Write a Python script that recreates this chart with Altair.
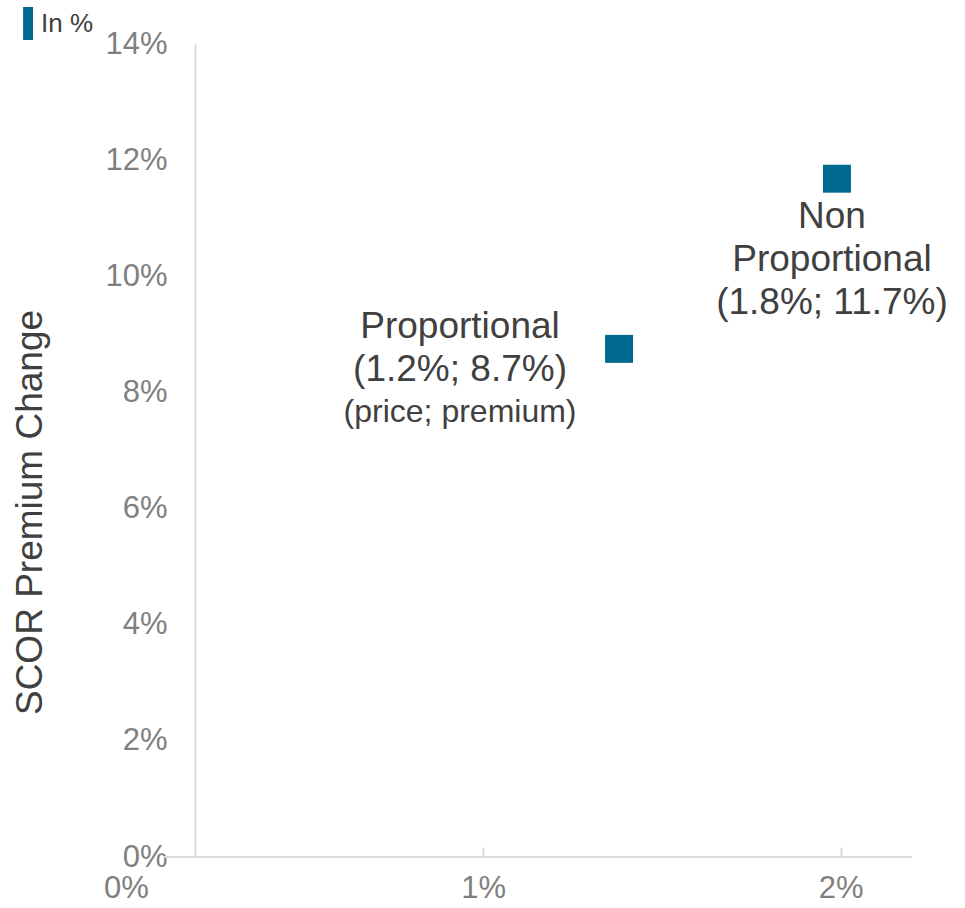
import altair as alt
import pandas as pd

# ---- data ----
series_names = ["Proportional", "Non Proportional"]
price_change = [0.0138, 0.0199]        # x position of each square
premium_change = [0.0875, 0.1168]      # y position of each square
point_labels = ["Proportional\n(1.2%; 8.7%)", "Non\nProportional\n(1.8%; 11.7%)"]
note_label = "(price; premium)"
legend_label = "In %"
x_tick_values = [0.0, 0.01, 0.02]
y_tick_values = [0.0, 0.02, 0.04, 0.06, 0.08, 0.10, 0.12, 0.14]
y_title = "SCOR Premium Change"

X_DOMAIN = [0.0, 0.022]
Y_DOMAIN = [0.0, 0.14]
X_LINE_START = 0.00105
FONT = "Liberation Sans"
BLUE = "#006A8E"
AXIS_GRAY = "#d9d9d9"
LABEL_GRAY = "#808080"
TEXT_DARK = "#404040"

df = pd.DataFrame({
    "name": series_names,
    "price": price_change,
    "premium": premium_change,
    "label": point_labels,
    "series": [legend_label] * len(series_names),
})
note_df = pd.DataFrame({"price": [price_change[0]], "premium": [premium_change[0]], "label": [note_label]})
line_df = pd.DataFrame({"price": [X_LINE_START], "price2": [X_DOMAIN[1]], "premium": [0.0]})

x_enc = alt.X(
    "price:Q",
    scale=alt.Scale(domain=X_DOMAIN, nice=False, zero=False),
    axis=alt.Axis(
        values=x_tick_values, format=".0%", domain=False, grid=False,
        offset=-10, tickSize=10, tickColor=AXIS_GRAY, tickWidth=2,
        tickOpacity={"condition": {"test": "datum.value == 0", "value": 0}, "value": 1},
        labelFontSize=31, labelColor=LABEL_GRAY, labelFont=FONT, labelPadding=16,
        labelFlush=False, title=None,
    ),
)
y_enc = alt.Y(
    "premium:Q",
    scale=alt.Scale(domain=Y_DOMAIN, nice=False, zero=False),
    axis=alt.Axis(
        values=y_tick_values, format=".0%", grid=False,
        offset=-69, domain=True, domainColor=AXIS_GRAY, domainWidth=2,
        ticks=False, labelPadding=28, labelFontSize=31, labelColor=LABEL_GRAY,
        labelFont=FONT, labelFlush=False,
        title=y_title, titleFontSize=37, titleColor=TEXT_DARK, titleFont=FONT,
        titleFontWeight="normal", titleX=-165, titleY=468, titleAngle=270,
        titleAlign="center", titleBaseline="middle",
    ),
)

axis_line = alt.Chart(line_df).mark_rule(color=AXIS_GRAY, strokeWidth=2).encode(
    x=x_enc, x2="price2:Q", y=y_enc
)

points = alt.Chart(df).mark_square(size=780, opacity=1).encode(
    x=x_enc,
    y=y_enc,
    color=alt.Color(
        "series:N",
        scale=alt.Scale(range=[BLUE]),
        legend=alt.Legend(
            title=None, orient="none", legendX=-126, legendY=-37, padding=0,
            symbolType="M0.4,-1H1V1H0.4Z", symbolSize=1089,
            symbolStrokeWidth=0, symbolOpacity=1,
            labelFontSize=26, labelColor=TEXT_DARK, labelFont=FONT, labelOffset=8,
        ),
    ),
)

text_common = dict(font=FONT, color=TEXT_DARK, align="center", baseline="middle",
                   lineBreak="\n", lineHeight=43)

prop_text = alt.Chart(df).transform_filter(alt.datum.name == series_names[0]).mark_text(
    fontSize=37, dx=-159, dy=-22, **text_common
).encode(x=x_enc, y=y_enc, text="label:N")

nonprop_text = alt.Chart(df).transform_filter(alt.datum.name == series_names[1]).mark_text(
    fontSize=37, dx=-5, dy=38, **text_common
).encode(x=x_enc, y=y_enc, text="label:N")

note_text = alt.Chart(note_df).mark_text(
    fontSize=32, dx=-159, dy=63, font=FONT, color=TEXT_DARK, align="center", baseline="middle"
).encode(x=x_enc, y=y_enc, text="label:N")

chart = alt.layer(axis_line, points, prop_text, nonprop_text, note_text).properties(
    width=786,
    height=813,
    autosize=alt.AutoSizeParams(type="none"),
    padding={"left": 126, "top": 44, "right": 53, "bottom": 51},
    background="white",
).configure_view(stroke=None)

chart.save("out.html", embed_options={"renderer": "svg", "actions": False})
